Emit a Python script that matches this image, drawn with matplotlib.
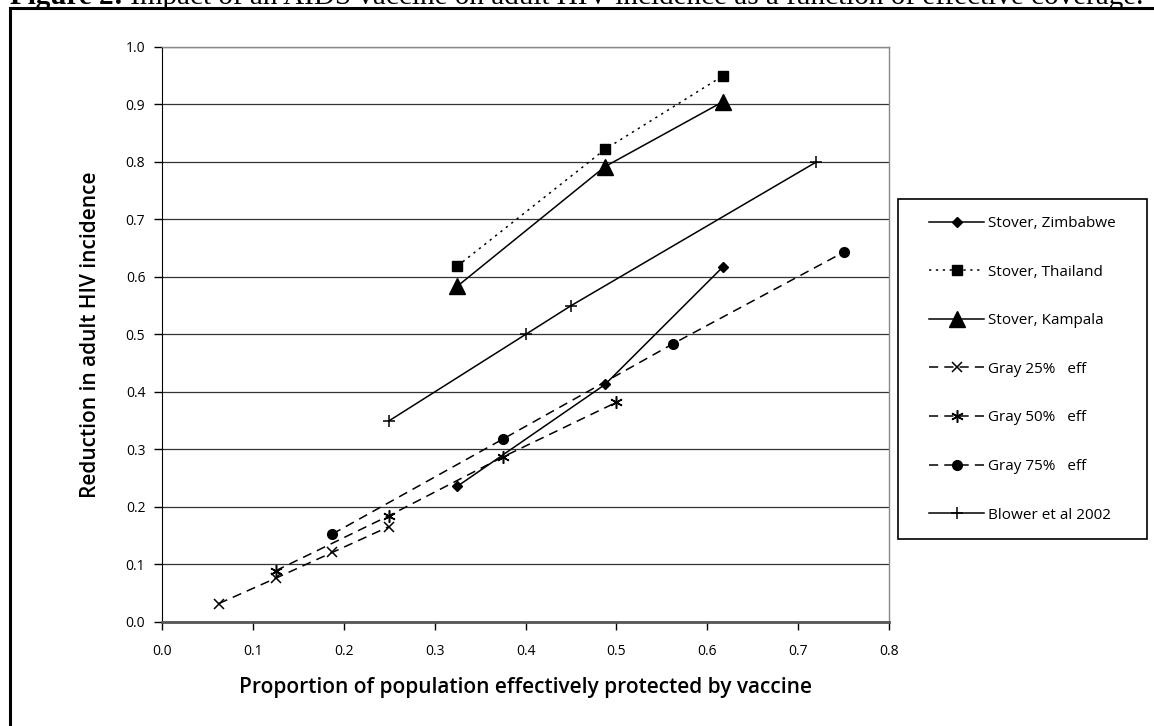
import numpy as np
import matplotlib.pyplot as plt
from matplotlib.patches import Rectangle

# datos
zimb_x = [0.325, 0.4875, 0.6175]
zimb_y = [0.236, 0.413, 0.618]
thai_x = [0.325, 0.4875, 0.6175]
thai_y = [0.619, 0.822, 0.950]
kamp_x = [0.325, 0.4875, 0.6175]
kamp_y = [0.584, 0.792, 0.905]
g25_x = [0.0625, 0.125, 0.1875, 0.25]
g25_y = [0.032, 0.076, 0.121, 0.166]
g50_x = [0.125, 0.25, 0.375, 0.5]
g50_y = [0.089, 0.185, 0.287, 0.382]
g75_x = [0.1875, 0.375, 0.5625, 0.75]
g75_y = [0.153, 0.318, 0.484, 0.643]
blow_x = [0.25, 0.40, 0.45, 0.72]
blow_y = [0.350, 0.500, 0.550, 0.800]

xticks = np.arange(0, 0.81, 0.1)
yticks = np.arange(0, 1.01, 0.1)

titulo_neg = "Figure 2:"
titulo = " Impact of an AIDS vaccine on adult HIV incidence as a function of effective coverage."
fuente = 'Open Sans'
W, H = 1154, 726

fig = plt.figure(figsize=(11.54, 7.26), dpi=100)
ax = fig.add_axes([0.1404, 0.1433, 0.630, 0.792])

dash = (0, (6, 4))
ax.plot(zimb_x, zimb_y, color='black', lw=1.1, marker='D', ms=5.5, label='Stover, Zimbabwe')
ax.plot(thai_x, thai_y, color='black', lw=1.1, ls=(0, (1.5, 3)), marker='s', ms=7, label='Stover, Thailand')
ax.plot(kamp_x, kamp_y, color='black', lw=1.1, marker='^', ms=12, label='Stover, Kampala')
ax.plot(g25_x, g25_y, color='black', lw=1.1, ls=dash, marker='x', ms=7, mew=1.1, label='Gray 25%   eff')
ax.plot(g50_x, g50_y, color='black', lw=1.1, ls=dash, marker=(6, 2, 0), ms=9, mew=1.1, label='Gray 50%   eff')
ax.plot(g75_x, g75_y, color='black', lw=1.1, ls=dash, marker='o', ms=7, label='Gray 75%   eff')
ax.plot(blow_x, blow_y, color='black', lw=1.1, marker='+', ms=8, mew=1.1, label='Blower et al 2002')

ax.set_xlim(0, 0.8)
ax.set_ylim(0, 1.0)
ax.set_xticks(xticks)
ax.set_yticks(yticks)
ax.set_xticklabels(['%.1f' % v for v in xticks], fontfamily=fuente, fontsize=10)
ax.set_yticklabels(['%.1f' % v for v in yticks], fontfamily=fuente, fontsize=10)
ax.tick_params(axis='x', direction='out', length=6, pad=10, width=1)
ax.tick_params(axis='y', direction='out', length=6, pad=6, width=1)
ax.grid(axis='y', color='#333333', lw=0.9)
ax.set_axisbelow(True)
for s in ['top', 'right']:
    ax.spines[s].set_color('#888888')
    ax.spines[s].set_linewidth(1)
ax.spines['left'].set_color('black')
ax.spines['bottom'].set_color('#555555')
ax.spines['bottom'].set_linewidth(2)

ax.set_xlabel('Proportion of population effectively protected by vaccine', fontfamily=fuente,
              fontsize=15, fontweight='semibold', labelpad=13)
ax.set_ylabel('Reduction in adult HIV incidence', fontfamily=fuente, fontsize=15,
              fontweight='semibold', labelpad=18)

# leyenda sin marco, el marco va aparte
leg = fig.legend(loc='upper left', bbox_to_anchor=(929 / W, (H - 216) / H), bbox_transform=fig.transFigure,
                 prop={'family': fuente, 'size': 11}, frameon=False,
                 handlelength=3.6, handletextpad=0.25, labelspacing=2.2,
                 borderpad=0, borderaxespad=0)
fig.patches.append(Rectangle((898 / W, (H - 539) / H), 249 / W, 340 / H,
                             transform=fig.transFigure, fill=False, lw=1.2, ec='black'))

# marco exterior y titulo cortado arriba
fig.patches.append(Rectangle((10 / W, -0.05), 1.2, (H - 8) / H + 0.05,
                             transform=fig.transFigure, fill=False, lw=2.2, ec='black'))
t1 = fig.text(10 / W, (H - 4.5) / H, titulo_neg, family='Liberation Serif', fontsize=21,
              fontweight='bold', va='baseline', ha='left')
r = fig.canvas.get_renderer()
bb = t1.get_window_extent(renderer=r)
fig.text(bb.x1 / W, (H - 4.5) / H, titulo, family='Liberation Serif', fontsize=21,
         va='baseline', ha='left')

fig.savefig('out.png', dpi=100)
